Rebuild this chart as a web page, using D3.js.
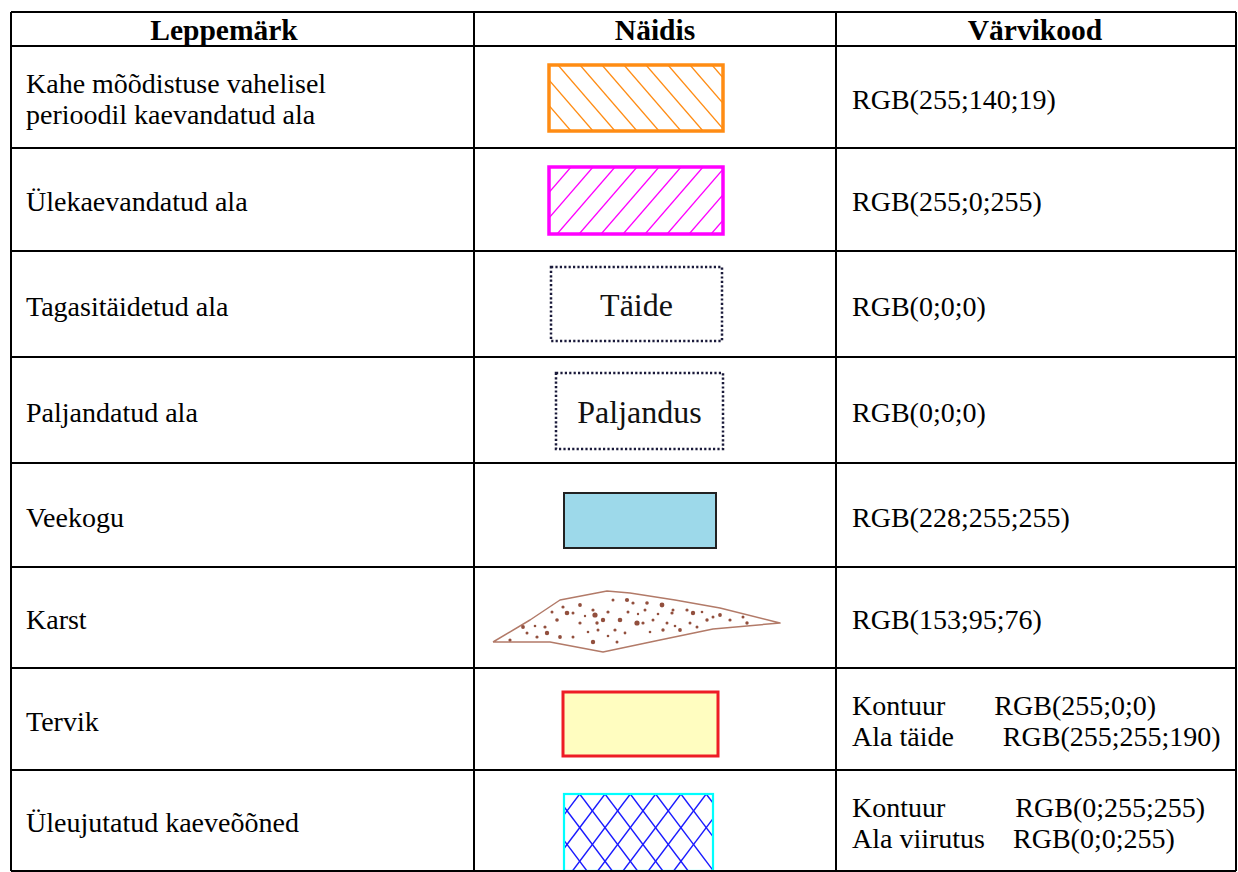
<!DOCTYPE html>
<html><head><meta charset="utf-8">
<script src="https://cdn.jsdelivr.net/npm/d3@7"></script>
<style>body{margin:0;background:#fff}svg{display:block}text{white-space:pre}</style>
</head><body>
<svg id="c" width="1238" height="872"></svg>
<script>
// ---------- data ----------
const headers = ["Leppemärk", "Näidis", "Värvikood"];
const labels = [
  ["Kahe mõõdistuse vahelisel", "perioodil kaevandatud ala"],
  ["Ülekaevandatud ala"],
  ["Tagasitäidetud ala"],
  ["Paljandatud ala"],
  ["Veekogu"],
  ["Karst"],
  ["Tervik"],
  ["Üleujutatud kaeveõõned"]
];
const codes = [
  ["RGB(255;140;19)"],
  ["RGB(255;0;255)"],
  ["RGB(0;0;0)"],
  ["RGB(0;0;0)"],
  ["RGB(228;255;255)"],
  ["RGB(153;95;76)"],
  ["Kontuur       RGB(255;0;0)", "Ala täide       RGB(255;255;190)"],
  ["Kontuur          RGB(0;255;255)", "Ala viirutus    RGB(0;0;255)"]
];
const swatchKinds = ["hatchBack", "hatchFwd", "dotted", "dotted", "plain", "karst", "plain", "cross"];
const swatchText = ["", "", "Täide", "Paljandus", "", "", "", ""];
const swatchStroke = ["#ff8c13", "#ff00ff", "#222", "#222", "#222", "#b27a68", "#ee1c25", "#00ffff"];
const swatchFill = ["#ffffff", "#ffffff", "#ffffff", "#ffffff", "#9dd9ea", "none", "#fffdc0", "#ffffff"];
const hatchColor = ["#ff8c13", "#ff00ff", null, null, null, null, null, "#1a1aff"];
// karst outline and specks, in local pixel units of the swatch box
const karstOutline = [[3,54],[40,32],[70,12],[117,3],[140,5],[185,12],[230,20],[290,35],[223,41],[170,52],[113,64],[60,54],[3,54]];
const karstSpecks = [[33,39,1.9],[37,45,1.5],[55,39,1.6],[57,45,2.2],[62,24,1.5],[67,32,1.8],[73,19,1.6],[77,25,2.3],[83,25,1.5],[90,17,1.9],[90,35,1.6],[83,49,1.5],[103,22,1.6],[105,27,2.6],[107,35,1.7],[108,42,1.5],[113,32,2.2],[118,24,1.6],[123,12,1.5],[125,42,1.6],[130,32,2.3],[137,12,2.1],[138,24,1.5],[143,15,1.6],[147,35,2.6],[153,35,1.6],[155,22,1.5],[157,15,1.8],[163,32,1.5],[172,17,2.4],[173,42,1.7],[177,35,1.5],[182,25,1.6],[183,22,1.5],[190,42,1.9],[197,22,1.6],[200,35,1.5],[203,25,2.2],[207,39,1.5],[217,32,1.7],[223,29,1.5],[230,27,1.9],[240,32,1.6],[253,29,1.5],[257,35,1.7],[103,54,2.2],[127,54,1.5],[47,49,1.6],[70,49,1.9],[20,52,1.6],[45,38,1.3],[98,44,1.3],[135,45,1.4],[160,44,1.3],[185,38,1.3],[212,24,1.3],[148,26,1.2],[118,48,1.3],[95,28,1.2],[168,26,1.3]];

// ---------- layout ----------
const colX = [11, 474, 836, 1236];
const headerCx = [224, 655, 1035];
const rowY = [12, 46, 148, 251, 357, 463, 567, 668, 770, 871];
const boxes = [[549,65,723,131],[549,167,723,234],[551,267,722,341],[556,373,723,449],[564,493,716,548],[490,588,782,655],[563,692,718,756],[564,794,713,871]];
const FONT = "'Liberation Serif','Times New Roman',serif";
const FS = 28;

const svg = d3.select("#c");
const defs = svg.append("defs");

// header
svg.append("g").selectAll("text").data(headers).join("text")
  .attr("x", (d,i) => headerCx[i])
  .attr("y", (rowY[0] + rowY[1]) / 2 + 1)
  .attr("text-anchor", "middle").attr("dominant-baseline", "central")
  .attr("font-family", FONT).attr("font-weight", "bold").attr("font-size", 29.5)
  .attr("fill", "#000").text(d => d);

const lineH = 31;
function multiline(g, lines, x, cy) {
  const n = lines.length;
  lines.forEach((t, k) => {
    g.append("text")
      .attr("x", x).attr("y", cy + (k - (n - 1) / 2) * lineH)
      .attr("dominant-baseline", "central")
      .attr("font-family", FONT).attr("font-size", FS).attr("fill", "#000")
      .text(t);
  });
}

labels.forEach((lines, i) => {
  const cy = (rowY[i+1] + rowY[i+2]) / 2 + 2;
  const g = svg.append("g");
  multiline(g, lines, colX[0] + 15, cy);
  multiline(g, codes[i], colX[2] + 16, cy);

  const [x0, y0, x1, y1] = boxes[i];
  const sg = svg.append("g");
  const kind = swatchKinds[i];
  if (kind === "karst") {
    const sx = d3.scaleLinear().domain([0, x1 - x0]).range([x0, x1]);
    const sy = d3.scaleLinear().domain([0, y1 - y0]).range([y0, y1]);
    sg.append("path")
      .attr("d", d3.line().x(p => sx(p[0])).y(p => sy(p[1]))(karstOutline))
      .attr("fill", "#fff").attr("stroke", swatchStroke[i]).attr("stroke-width", 1.5)
      .attr("stroke-linejoin", "round");
    sg.selectAll("circle").data(karstSpecks).join("circle")
      .attr("cx", p => sx(p[0])).attr("cy", p => sy(p[1])).attr("r", p => p[2])
      .attr("fill", "#924f3d");
    return;
  }
  const clipId = "clip" + i;
  defs.append("clipPath").attr("id", clipId).append("rect")
    .attr("x", x0).attr("y", y0).attr("width", x1 - x0).attr("height", y1 - y0);
  sg.append("rect").attr("x", x0).attr("y", y0).attr("width", x1 - x0).attr("height", y1 - y0)
    .attr("fill", swatchFill[i]);
  const hg = sg.append("g").attr("clip-path", `url(#${clipId})`);
  const h = y1 - y0;
  if (kind === "hatchBack" || kind === "hatchFwd") {
    const step = 22, run = 57 * h / 66;
    const starts = d3.range(x0 - run - step, x1 + step, step);
    hg.selectAll("line").data(starts).join("line")
      .attr("x1", s => kind === "hatchBack" ? s : s + run)
      .attr("y1", y0)
      .attr("x2", s => kind === "hatchBack" ? s + run : s)
      .attr("y2", y1)
      .attr("stroke", hatchColor[i]).attr("stroke-width", 1.3);
  }
  if (kind === "cross") {
    const step = 25.3, slope = 1.33, run = h / slope;
    const starts = d3.range(x0 - run - step + 23, x1 + step, step);
    ["a", "b"].forEach(dir => {
      hg.append("g").selectAll("line").data(starts).join("line")
        .attr("x1", s => s).attr("y1", y0)
        .attr("x2", s => dir === "a" ? s + run : s - run).attr("y2", y1)
        .attr("stroke", hatchColor[i]).attr("stroke-width", 1.4);
    });
  }
  const border = sg.append("rect").attr("x", x0).attr("y", y0).attr("width", x1 - x0).attr("height", y1 - y0)
    .attr("fill", "none").attr("stroke", swatchStroke[i]);
  if (kind === "dotted") {
    border.attr("stroke-width", 2.5).attr("stroke-dasharray", "2.2,2.2").attr("stroke", "#1a1a3a");
    sg.append("text").attr("x", (x0 + x1) / 2).attr("y", (y0 + y1) / 2 + 1)
      .attr("text-anchor", "middle").attr("dominant-baseline", "central")
      .attr("font-family", FONT).attr("font-size", 32).attr("fill", "#111")
      .text(swatchText[i]);
  } else if (i === 0 || i === 1) {
    border.attr("stroke-width", 3.5);
  } else if (i === 6) {
    border.attr("stroke-width", 3);
  } else if (i === 7) {
    border.attr("stroke-width", 2.2);
  } else {
    border.attr("stroke-width", 2);
  }
});

// grid lines
const grid = svg.append("g").attr("stroke", "#000").attr("stroke-width", 1.6).attr("shape-rendering", "crispEdges");
grid.selectAll("line.h").data(rowY).join("line").attr("class", "h")
  .attr("x1", colX[0]).attr("x2", colX[3]).attr("y1", d => d).attr("y2", d => d);
grid.selectAll("line.v").data(colX).join("line").attr("class", "v")
  .attr("y1", rowY[0]).attr("y2", rowY[rowY.length - 1]).attr("x1", d => d).attr("x2", d => d);
</script>
</body></html>
